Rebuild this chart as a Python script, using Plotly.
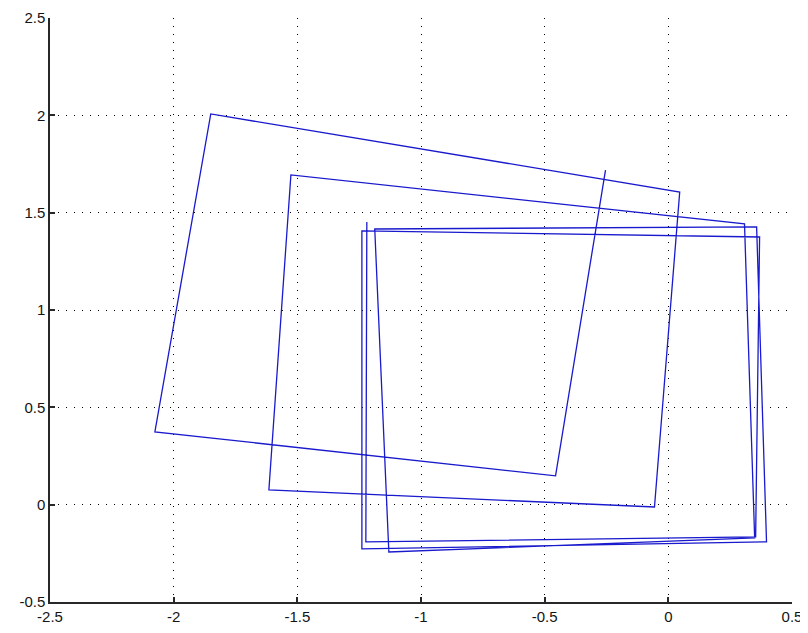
import plotly.graph_objects as go

# Path vertices (data coordinates), in drawing order
x_vals = [-0.254, -0.456, -2.076, -1.850, 0.046, -0.056, -1.615, -1.526, 0.308,
          0.349, -1.130, -1.187, 0.357, 0.397, -1.239, -1.239, 0.369, 0.353,
          -1.223, -1.219]
y_vals = [1.719, 0.148, 0.374, 2.007, 1.606, -0.012, 0.076, 1.694, 1.442,
          -0.171, -0.243, 1.416, 1.427, -0.191, -0.227, 1.406, 1.375, -0.166,
          -0.191, 1.452]

x_ticks = [-2.5, -2, -1.5, -1, -0.5, 0, 0.5]
x_tick_labels = ["-2.5", "-2", "-1.5", "-1", "-0.5", "0", "0.5"]
y_ticks = [-0.5, 0, 0.5, 1, 1.5, 2, 2.5]
y_tick_labels = ["-0.5", "0", "0.5", "1", "1.5", "2", "2.5"]

fig = go.Figure()
fig.add_trace(go.Scatter(
    x=x_vals, y=y_vals, mode="lines",
    line=dict(color="rgb(25,25,205)", width=1.3),
    showlegend=False, hoverinfo="skip"))

axis_common = dict(
    showgrid=True, gridcolor="rgb(0,0,0)", gridwidth=1, griddash="1px,7px",
    zeroline=False, showline=True, linecolor="rgb(40,40,40)", linewidth=1.5,
    ticks="inside", ticklen=5, tickcolor="rgb(40,40,40)", tickwidth=1.5,
    mirror=False, automargin=False,
    tickfont=dict(family="Liberation Sans, Arial", size=15, color="rgb(20,20,20)"),
)

fig.update_layout(
    width=800, height=625,
    margin=dict(l=42, r=16, t=10, b=31, pad=0),
    paper_bgcolor="white", plot_bgcolor="white",
    xaxis=dict(range=[-2.5, 0.5], tickvals=x_ticks, ticktext=x_tick_labels, **axis_common),
    yaxis=dict(range=[-0.5, 2.5], tickvals=y_ticks, ticktext=y_tick_labels, **axis_common),
)

fig.write_html("out.html")
